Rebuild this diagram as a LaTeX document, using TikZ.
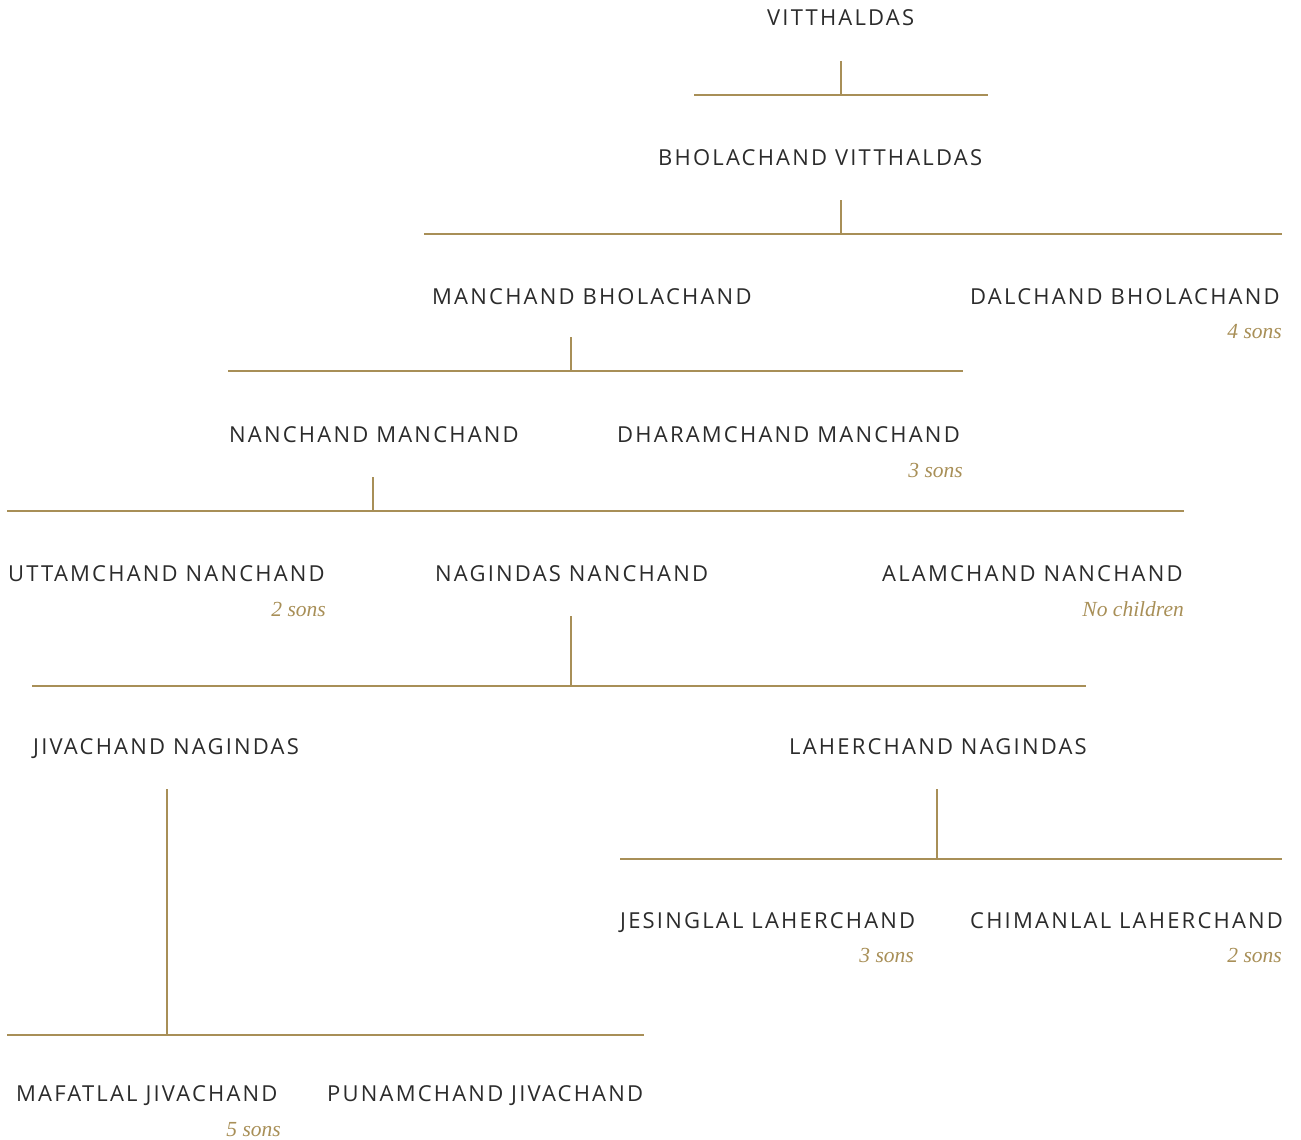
\documentclass[tikz,border=0pt]{standalone}
\usepackage{fontspec}
\setsansfont[LetterSpace=10]{Open Sans}
\newfontfamily\notefont{Liberation Serif}
\definecolor{gold}{HTML}{A88F57}
\definecolor{ink}{HTML}{2B2B2B}
\tikzset{
  person/.style={inner sep=0pt, text=ink, font=\sffamily\fontsize{22}{26}\selectfont, anchor=base west},
  note/.style={inner sep=0pt, text=gold, font=\notefont\itshape\fontsize{21.5}{26}\selectfont, anchor=base east},
  branch/.style={draw=gold, line width=2.7pt}
}

\begin{document}
\begin{tikzpicture}[x=1pt,y=-1pt]
\useasboundingbox (0,0) rectangle (1301,1140);
% generation rows
\node[person] (vit) at (767,26) {VITTHALDAS};
\node[person] (bhola) at (658,165) {BHOLACHAND VITTHALDAS};
\node[person] (manch) at (432,304) {MANCHAND BHOLACHAND};
\node[person] (dalch) at (970,304) {DALCHAND BHOLACHAND};
\node[person] (nanch) at (229,442) {NANCHAND MANCHAND};
\node[person] (dharam) at (617,442) {DHARAMCHAND MANCHAND};
\node[person] (uttam) at (8,581) {UTTAMCHAND NANCHAND};
\node[person] (nagin) at (435,581) {NAGINDAS NANCHAND};
\node[person] (alam) at (882,581) {ALAMCHAND NANCHAND};
\node[person] (jiva) at (33,754) {JIVACHAND NAGINDAS};
\node[person] (laher) at (789,754) {LAHERCHAND NAGINDAS};
\node[person] (jesing) at (620,928) {JESINGLAL LAHERCHAND};
\node[person] (chiman) at (970,928) {CHIMANLAL LAHERCHAND};
\node[person] (mafat) at (16,1101) {MAFATLAL JIVACHAND};
\node[person] (punam) at (327,1101) {PUNAMCHAND JIVACHAND};
% notes
\node[note] (n-dalch) at (1282,338) {4 sons};
\node[note] (n-dharam) at (963,477) {3 sons};
\node[note] (n-uttam) at (326,616) {2 sons};
\node[note] (n-alam) at (1184,616) {No children};
\node[note] (n-jesing) at (914,962) {3 sons};
\node[note] (n-chiman) at (1282,962) {2 sons};
\node[note] (n-mafat) at (281,1136) {5 sons};
% bars
\coordinate (t1) at (841,61);  \coordinate (j1) at (841,95);
\coordinate (l1) at (694,95);  \coordinate (r1) at (988,95);
\coordinate (t2) at (841,200); \coordinate (j2) at (841,234);
\coordinate (l2) at (424,234); \coordinate (r2) at (1282,234);
\coordinate (t3) at (571,337); \coordinate (j3) at (571,371);
\coordinate (l3) at (228,371); \coordinate (r3) at (963,371);
\coordinate (t4) at (373,477); \coordinate (j4) at (373,511);
\coordinate (l4) at (7,511);   \coordinate (r4) at (1184,511);
\coordinate (t5) at (571,616); \coordinate (j5) at (571,686);
\coordinate (l5) at (32,686);  \coordinate (r5) at (1086,686);
\coordinate (t6) at (167,789); \coordinate (j6) at (167,1035);
\coordinate (l6) at (7,1035);  \coordinate (r6) at (644,1035);
\coordinate (t7) at (937,789); \coordinate (j7) at (937,859);
\coordinate (l7) at (620,859); \coordinate (r7) at (1282,859);
\foreach \i in {1,...,7} {
  \draw[branch] (t\i) -- (j\i);
  \draw[branch] (l\i) -- (r\i);
}
\end{tikzpicture}
\end{document}
